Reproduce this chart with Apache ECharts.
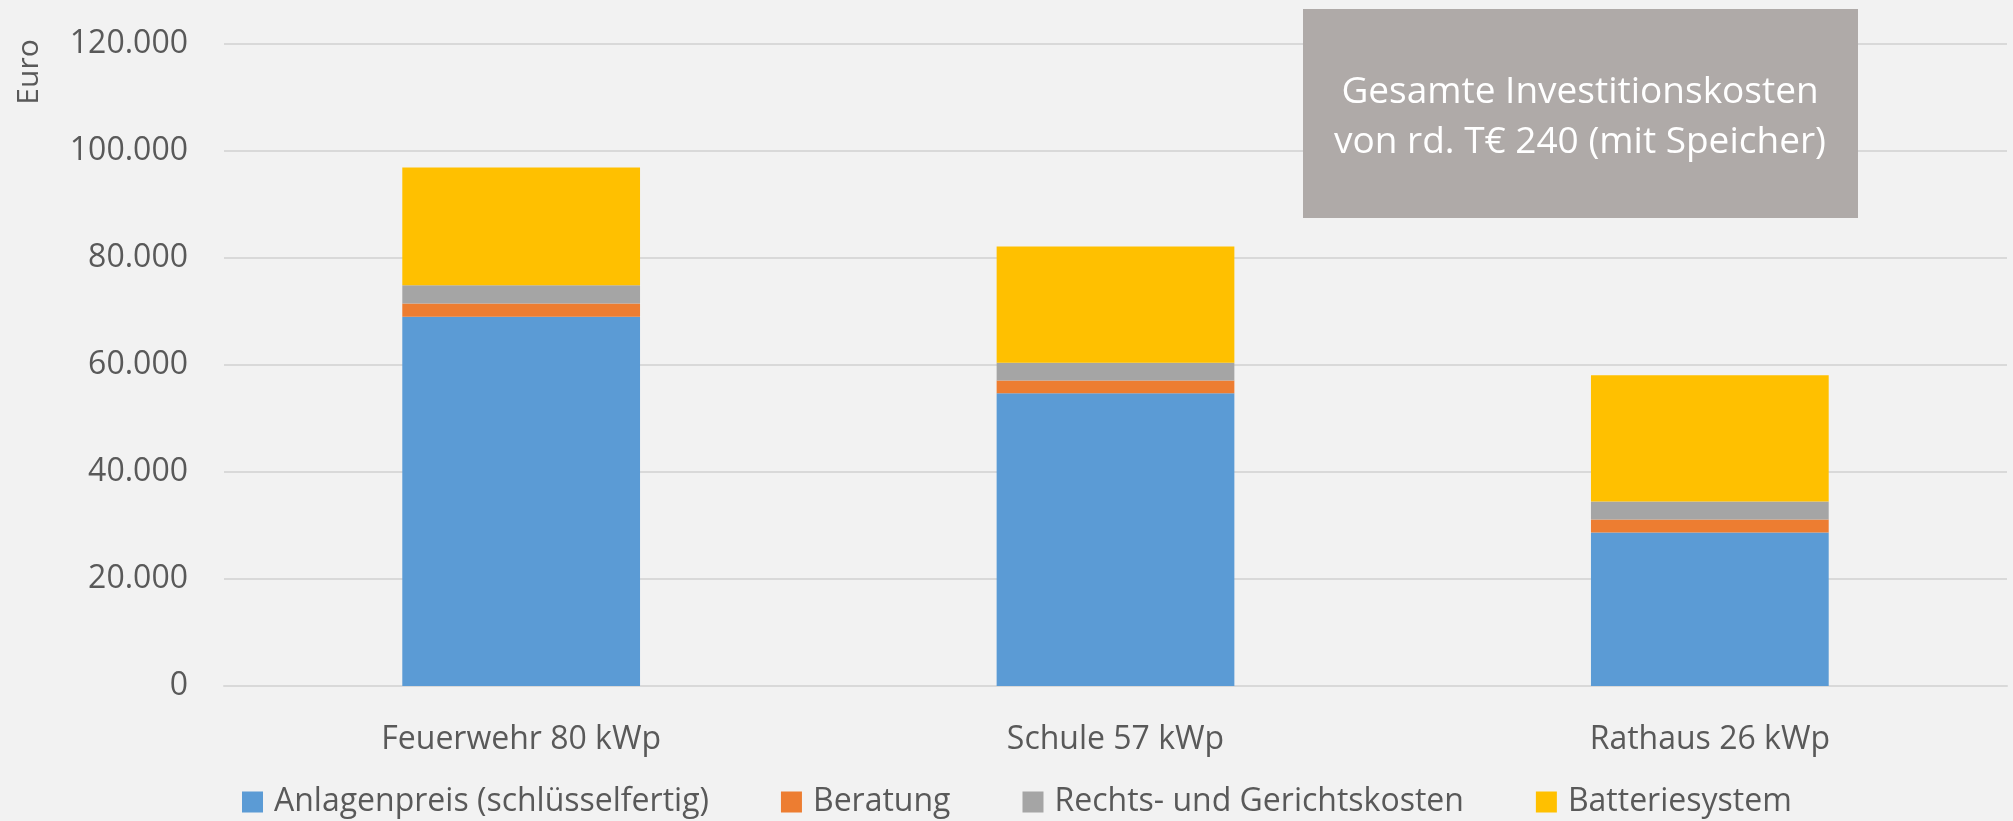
<!DOCTYPE html>
<html>
<head>
<meta charset="utf-8">
<script src="https://cdn.jsdelivr.net/npm/echarts@6/dist/echarts.min.js"></script>
<style>
  html, body { margin: 0; padding: 0; background: #f2f2f2; }
  #chart { width: 2013px; height: 821px; }
</style>
</head>
<body>
<div id="chart"></div>
<script>
const FONT = "'Open Sans', 'Liberation Sans', sans-serif";
const TEXT_COLOR = "#595959";

const categories = ["Feuerwehr 80 kWp", "Schule 57 kWp", "Rathaus 26 kWp"];
const seriesNames = [
  "Anlagenpreis (schlüsselfertig)",
  "Beratung",
  "Rechts- und Gerichtskosten",
  "Batteriesystem",
];
const anlagenpreis = [69000, 54700, 28700];
const beratung = [2500, 2400, 2400];
const rechtskosten = [3400, 3300, 3400];
const batteriesystem = [22000, 21750, 23600];
const seriesColors = ["#5b9bd5", "#ed7d31", "#a5a5a5", "#ffc000"];
const seriesData = [anlagenpreis, beratung, rechtskosten, batteriesystem];

const boxText = "Gesamte Investitionskosten\nvon rd. T€ 240 (mit Speicher)";

const chart = echarts.init(document.getElementById("chart"));

// Tausender mit Punkt
const fmt = (v) => String(v).replace(/\B(?=(\d{3})+(?!\d))/g, ".");

chart.setOption({
  backgroundColor: "#f2f2f2",
  animation: false,
  textStyle: { fontFamily: FONT },
  grid: { left: 224, right: 6, top: 44, bottom: 135 },
  legend: {
    data: seriesNames,
    left: 237,
    top: 781,
    icon: "rect",
    itemWidth: 21,
    itemHeight: 21,
    itemGap: 72,
    textStyle: {
      color: TEXT_COLOR,
      fontSize: 32,
      fontFamily: FONT,
      padding: [0, 0, 0, 6],
    },
  },
  xAxis: {
    type: "category",
    data: categories,
    axisLine: { show: true, lineStyle: { color: "#d9d9d9", width: 2 } },
    axisTick: { show: false },
    axisLabel: { color: TEXT_COLOR, fontSize: 32, fontFamily: FONT, margin: 38 },
  },
  yAxis: {
    type: "value",
    min: 0,
    max: 120000,
    interval: 20000,
    axisLine: { show: false },
    axisTick: { show: false },
    splitLine: { lineStyle: { color: "#d9d9d9", width: 2 } },
    axisLabel: {
      color: TEXT_COLOR,
      fontSize: 32,
      fontFamily: FONT,
      margin: 36,
      formatter: fmt,
    },
  },
  graphic: [
    {
      type: "text",
      x: 29,
      y: 72,
      z: 100,
      rotation: Math.PI / 2,
      style: {
        text: "Euro",
        fill: TEXT_COLOR,
        font: "30px " + FONT,
        align: "center",
        verticalAlign: "middle",
      },
    },
    {
      type: "rect",
      z: 100,
      shape: { x: 1303, y: 9, width: 555, height: 209 },
      style: { fill: "#afaaa8" },
    },
    {
      type: "text",
      x: 1580,
      y: 117,
      z: 101,
      style: {
        text: boxText,
        fill: "#ffffff",
        font: "37px " + FONT,
        lineHeight: 50,
        align: "center",
        verticalAlign: "middle",
      },
    },
  ],
  series: seriesNames.map((name, i) => ({
    name,
    type: "bar",
    stack: "total",
    barWidth: "40%",
    data: seriesData[i],
    itemStyle: { color: seriesColors[i] },
  })),
});
</script>
</body>
</html>
